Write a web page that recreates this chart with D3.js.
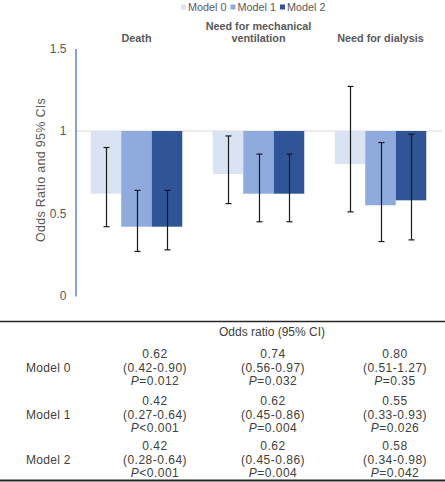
<!DOCTYPE html>
<html><head><meta charset="utf-8">
<script src="https://cdn.jsdelivr.net/npm/d3@7"></script>
<style>body{margin:0;background:#fff}svg{display:block;font-family:"Liberation Sans",Arial,sans-serif}</style>
</head><body><svg id="c" width="445" height="482"></svg>
<script>
const categories = ["Death", "Need for mechanical ventilation", "Need for dialysis"];
const categoryLines = [["Death"], ["Need for mechanical", "ventilation"], ["Need for dialysis"]];
const models = ["Model 0", "Model 1", "Model 2"];
const colors = ["#dae3f3", "#8faadc", "#2f5597"];
const or0 = [0.62, 0.74, 0.80], lo0 = [0.42, 0.56, 0.51], hi0 = [0.90, 0.97, 1.27], p0 = ["=0.012", "=0.032", "=0.35"];
const or1 = [0.42, 0.62, 0.55], lo1 = [0.27, 0.45, 0.33], hi1 = [0.64, 0.86, 0.93], p1 = ["<0.001", "=0.004", "=0.026"];
const or2 = [0.42, 0.62, 0.58], lo2 = [0.28, 0.45, 0.34], hi2 = [0.64, 0.86, 0.98], p2 = ["<0.001", "=0.004", "=0.042"];
const yTicks = [0, 0.5, 1, 1.5];
const yTickLabels = ["0", "0.5", "1", "1.5"];

const ORs = [or0, or1, or2], LOs = [lo0, lo1, lo2], HIs = [hi0, hi1, hi2], Ps = [p0, p1, p2];
const fmt = d3.format(".2f");

const svg = d3.select("#c");
const x0 = d3.scaleBand().domain(categories).range([75.5, 441.5]).paddingInner(0.25).paddingOuter(0.125);
const x1 = d3.scaleBand().domain(models).range([0, x0.bandwidth()]);
const y = d3.scaleLinear().domain([0, 1.5]).range([296, 48.5]);
const txt = "#595959";

// gridline / category axis at 1
svg.append("line").attr("x1", 75.5).attr("x2", 442).attr("y1", y(1)).attr("y2", y(1))
  .attr("stroke", "#d9d9d9").attr("stroke-width", 1);

// bars
categories.forEach((c, ci) => {
  models.forEach((m, mi) => {
    const v = ORs[mi][ci];
    svg.append("rect").attr("x", x0(c) + x1(m)).attr("width", x1.bandwidth())
      .attr("y", y(1)).attr("height", y(v) - y(1)).attr("fill", colors[mi]);
  });
});
// error bars
categories.forEach((c, ci) => {
  models.forEach((m, mi) => {
    const cx = Math.round(x0(c) + x1(m) + x1.bandwidth() / 2) + 0.5;
    const lo = LOs[mi][ci], hi = HIs[mi][ci];
    const g = svg.append("g").attr("stroke", "#1a1a1a").attr("stroke-width", 1.2);
    g.append("line").attr("x1", cx).attr("x2", cx).attr("y1", y(lo)).attr("y2", y(hi));
    g.append("line").attr("x1", cx - 3).attr("x2", cx + 3).attr("y1", y(lo)).attr("y2", y(lo));
    g.append("line").attr("x1", cx - 3).attr("x2", cx + 3).attr("y1", y(hi)).attr("y2", y(hi));
  });
});

// y axis
const yAxis = d3.axisLeft(y).tickValues(yTicks).tickFormat((d, i) => yTickLabels[i]).tickSize(0).tickPadding(9);
const ga = svg.append("g").attr("transform", "translate(75.5,0)").call(yAxis);
ga.select(".domain").attr("stroke", "#4472c4").attr("stroke-width", 1.3);
ga.selectAll("text").attr("fill", txt).attr("font-size", 12).attr("font-family", "Liberation Sans, Arial, sans-serif");

svg.append("text").attr("transform", "translate(45,170) rotate(-90)").attr("text-anchor", "middle")
  .attr("fill", txt).attr("font-size", 12.5).attr("letter-spacing", 0.3).text("Odds Ratio and 95% CIs");

// category labels
categories.forEach((c, ci) => {
  const lines = categoryLines[ci];
  const cx = x0(c) + x0.bandwidth() / 2;
  lines.forEach((l, li) => {
    svg.append("text").attr("x", cx).attr("y", 42 - (lines.length - 1 - li) * 12.5)
      .attr("text-anchor", "middle").attr("fill", txt).attr("font-size", 10.8).attr("font-weight", "bold")
      .text(l);
  });
});

// legend
const legX = [181, 230.5, 280];
models.forEach((m, mi) => {
  svg.append("rect").attr("x", legX[mi]).attr("y", 4.5).attr("width", 5).attr("height", 5).attr("fill", colors[mi]);
  svg.append("text").attr("x", legX[mi] + 7).attr("y", 10.5).attr("fill", txt).attr("font-size", 10.8)
    .text(m);
});

// table
svg.append("line").attr("x1", 0).attr("x2", 445).attr("y1", 321.5).attr("y2", 321.5).attr("stroke", "#262626").attr("stroke-width", 1.5);
svg.append("line").attr("x1", 0).attr("x2", 445).attr("y1", 480.5).attr("y2", 480.5).attr("stroke", "#262626").attr("stroke-width", 2);
const tcol = "#404040";
svg.append("text").attr("x", 272).attr("y", 336).attr("text-anchor", "middle").attr("fill", tcol)
  .attr("font-size", 12).text("Odds ratio (95% CI)");
const colX = [155, 273, 395];
const rowY = [354, 400.5, 445.5];
models.forEach((m, mi) => {
  svg.append("text").attr("x", 26).attr("y", rowY[mi] + 18).attr("fill", tcol).attr("font-size", 12)
    .attr("letter-spacing", 0.3).text(m);
  categories.forEach((c, ci) => {
    const g = svg.append("g").attr("fill", tcol).attr("font-size", 12).attr("text-anchor", "middle").attr("letter-spacing", 0.5);
    g.append("text").attr("x", colX[ci]).attr("y", rowY[mi] + 4).text(fmt(ORs[mi][ci]));
    g.append("text").attr("x", colX[ci]).attr("y", rowY[mi] + 18).text("(" + fmt(LOs[mi][ci]) + "-" + fmt(HIs[mi][ci]) + ")");
    const t = g.append("text").attr("x", colX[ci]).attr("y", rowY[mi] + 31);
    t.append("tspan").attr("font-style", "italic").text("P");
    t.append("tspan").text(Ps[mi][ci]);
  });
});
</script></body></html>
